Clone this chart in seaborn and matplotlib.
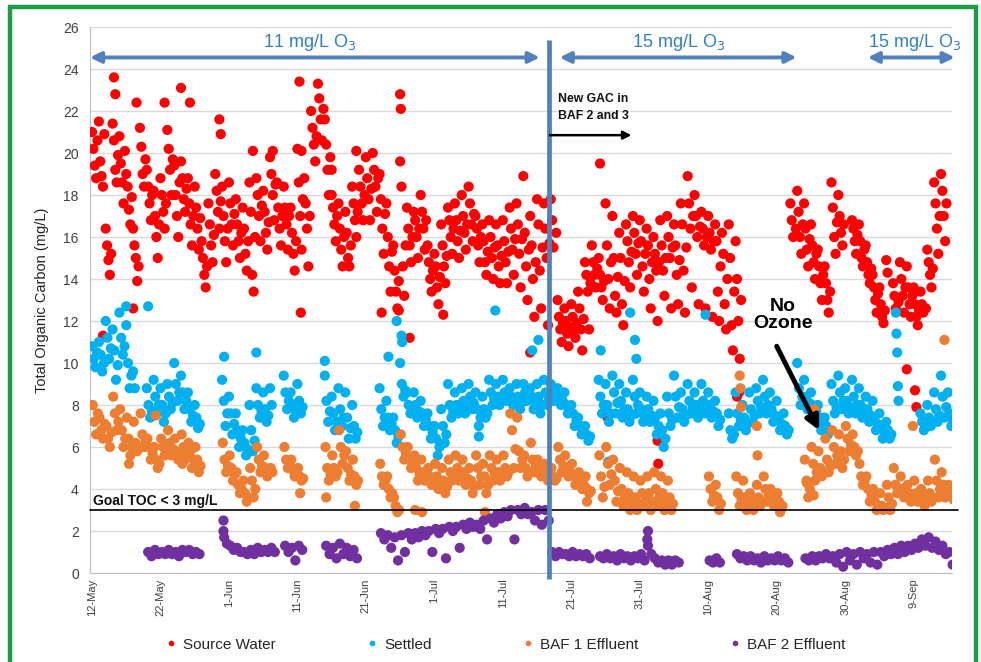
import numpy as np
import pandas as pd
import matplotlib
matplotlib.use("Agg")
import matplotlib.pyplot as plt
import seaborn as sns
from matplotlib.patches import Rectangle

N = None

# ===================================
# Axis data
# ===================================
tick_days   = [0, 10, 20, 30, 40, 50, 60, 70, 80, 90, 100, 110, 120]
tick_labels = ['12-May', '22-May', '1-Jun', '11-Jun', '21-Jun', '1-Jul', '11-Jul',
               '21-Jul', '31-Jul', '10-Aug', '20-Aug', '30-Aug', '9-Sep']
y_ticks = list(range(0, 27, 2))

SERIES = ['Source Water', 'Settled', 'BAF 1 Effluent', 'BAF 2 Effluent']
COLORS = ['#FF0000', '#00B0F0', '#ED7D31', '#7030A0']

# ===================================
# TOC readings, one value per reading slot per day (day 0 = 12-May)
# ===================================
src_a = [21.0, 21.5, 16.4, 21.4, 20.8, 19.0, 16.4, 21.2, 19.2, 18.2,
         18.8, 21.1, 19.4, 19.6, 18.8, 18.4, 15.8, 17.6, 19.0, 18.4,
         18.6, 17.8, 17.4, 18.6, 18.8, 18.2, 19.8, 18.6, 18.4, 17.4,
         20.2, 18.8, 22.0, 23.3, 21.6, 18.0, 17.6, 17.2, 18.4, 19.2,
         19.8, 20.0, 19.0, 17.6, 15.6, 19.6, 17.4, 17.2, 18.0, 15.6,
         15.2, 16.6, 17.4, 17.6, 18.0, 18.4, 17.0, 16.6, 16.8, 16.6,
         16.8, 17.4, 17.6, 18.9, 17.0, 17.8, 17.6, 17.8, 13.0, 12.6,
         12.8, 13.4, 14.8, 15.6, 15.0, 17.6, 17.0, 16.2, 16.6, 17.0,
         16.8, 16.4, 16.0, 16.8, 17.0, 16.6, 17.6, 18.9, 18.0, 17.2,
         17.0, 16.6, 16.2, 16.6, 15.8, N, N, N, N, N,
         N, N, 17.6, 18.2, 17.6, 16.6, 15.4, 14.6, 18.6, 18.0,
         N, 16.8, 16.6, 15.6, 14.2, 13.6, 14.9, 13.8, 14.8, 14.6,
         13.6, 13.4, 15.4, 18.6, 19.0, N]
src_b = [20.2, 19.6, 15.6, 20.6, 19.5, 18.4, 15.6, 20.3, 18.4, 17.0,
         18.0, 20.2, 18.0, 18.8, 17.6, 17.4, 15.0, 16.6, 18.2, 17.0,
         17.6, 16.6, 16.4, 17.2, 18.0, 17.2, 19.0, 17.4, 17.4, 16.2,
         18.6, 17.6, 21.2, 22.6, 20.4, 17.4, 16.4, 16.2, 17.6, 18.4,
         18.8, 19.2, 17.8, 16.0, 14.4, 18.4, 16.4, 16.8, 17.2, 14.8,
         14.6, 15.6, 16.8, 16.8, 17.0, 17.6, 16.4, 15.8, 16.0, 15.6,
         15.8, 16.4, 16.6, 16.2, 15.6, 16.6, 16.4, 16.8, 12.2, 12.0,
         12.2, 12.6, 14.2, 14.8, 14.2, 15.6, 15.0, 15.0, 15.8, 16.2,
         15.8, 15.6, 15.2, 15.6, 16.0, 15.6, 16.6, 17.6, 17.0, 16.4,
         16.2, 15.8, 15.2, 15.0, 14.0, N, N, N, N, N,
         N, N, 16.8, 17.2, 16.4, 15.6, 14.6, 13.8, 17.4, 17.0,
         N, 16.4, 15.8, 14.8, 13.6, 12.8, 14.3, 13.2, 14.0, 13.6,
         12.8, 12.8, 14.8, 17.6, 18.2, N]
src_c = [19.4, 18.9, 14.9, 19.2, 18.6, 17.3, 15.0, 19.0, 17.6, 16.0,
         17.2, 19.2, 17.0, 17.8, 16.6, 16.4, 14.2, 15.6, 17.2, 15.8,
         16.6, 15.8, 15.2, 14.2, 17.0, 16.2, 18.0, 16.4, 16.6, 15.2,
         17.0, 16.4, 20.4, 21.6, 19.2, 16.6, 15.4, 15.0, 16.8, 17.6,
         17.8, 18.4, 16.4, 14.6, 13.4, 14.6, 15.6, 16.0, 16.4, 14.0,
         13.6, 14.6, 16.0, 15.8, 16.2, 16.6, 15.6, 14.8, 15.0, 14.6,
         14.8, 15.4, 15.2, 14.6, 14.0, 14.4, 15.0, 15.5, 11.6, 11.4,
         11.6, 11.6, 13.4, 14.2, 13.6, 14.0, 13.2, 12.8, 14.8, 15.2,
         14.6, 14.0, 14.4, 14.4, 15.0, 14.2, 14.4, 16.4, 16.0, 15.6,
         15.4, 13.4, 12.8, 11.8, 12.0, N, N, N, N, N,
         N, N, 16.0, 16.0, 15.4, 14.8, 13.8, 13.0, 16.0, 16.2,
         N, 15.8, 15.0, 14.2, 13.0, 12.2, N, 12.6, 13.2, 12.8,
         12.2, 12.4, 14.2, 16.4, 17.0, N]
src_d = [18.8, 18.4, 14.2, 18.6, 17.6, 16.6, 13.9, 18.4, 16.8, 15.0,
         16.4, 18.0, 16.0, 17.2, 15.6, 15.4, 13.6, 14.8, 16.4, 14.8,
         15.6, 15.0, 14.4, 13.4, 15.8, 15.4, 16.8, 15.6, 15.4, 14.4,
         15.4, 14.6, 19.6, 20.6, 18.0, 15.8, 14.6, 14.6, 16.0, 16.8,
         16.8, 17.2, 15.2, 13.4, 12.6, 13.2, 14.8, 15.0, 15.4, 13.4,
         12.8, 13.8, 15.2, 15.0, 15.4, 15.8, 14.8, 14.2, 14.0, 13.8,
         13.8, 14.2, 13.6, 13.0, 12.2, 12.6, 11.8, N, 11.0, 10.8,
         11.2, 10.6, 11.6, 13.6, 13.0, 12.6, 12.4, 11.8, 13.6, 14.2,
         13.4, 12.6, 12.0, 13.2, 12.6, 12.8, 12.4, 13.6, 12.8, 12.6,
         12.2, 12.0, 11.6, 10.6, 10.2, N, N, N, N, N,
         N, N, N, 15.2, 14.6, 14.0, 13.0, 12.4, 15.2, 15.6,
         N, 15.2, 14.6, 13.8, 12.4, 11.9, N, N, 12.4, 12.2,
         11.8, N, 13.6, 15.2, 15.8, N]
src_e = [20.6, 20.9, 15.2, 19.9, 20.1, 17.9, 14.6, 19.7, 18.0, 16.6,
         17.6, 19.7, 18.6, 18.3, 17.0, 16.9, 14.6, 16.1, 17.7, 16.4,
         17.1, 16.2, 15.8, 16.0, 17.5, 16.7, 18.5, 17.0, 17.0, 15.8,
         17.8, 17.0, 20.8, 22.1, 19.8, 17.0, 16.0, 15.6, 17.2, 18.0,
         18.3, 18.8, 17.1, 15.3, 13.9, 15.6, 16.0, 16.4, 16.8, 14.4,
         14.1, 15.1, 16.4, 16.3, 16.6, 17.1, 16.0, 15.3, 15.5, 15.1,
         15.3, 15.9, 15.9, 15.4, 14.8, 15.5, 15.7, 16.2, 11.9, 11.7,
         11.9, 12.1, 13.8, 14.5, 13.9, 14.8, 14.1, 13.9, 15.3, 15.7,
         15.2, 14.8, 14.8, 15.0, 15.5, 14.9, 15.5, 17.0, 16.5, 16.0,
         15.8, 14.6, 14.0, 13.4, 13.0, N, N, N, N, N,
         N, N, 16.4, 16.6, 15.9, 15.2, 14.2, 13.4, 16.7, 16.6,
         N, 16.1, 15.4, 14.5, 13.3, 12.5, N, 12.9, 13.6, 13.2,
         12.5, 12.6, 14.5, 17.0, 17.6, N]
src_extra_day = [1.6, 3.2, 3.4, 6.0, 6.5, 10.6, 13.0, 14.3, 18.6, 18.8, 23.5,
                 26.4, 30.3, 30.5, 30.6, 35.0, 38.6, 42.3, 44.8, 45.0, 45.1,
                 46.4, 51.3, 64.0, 74.2, 75.3, 82.6, 82.7, 94.2, 94.5, 119.0,
                 120.2, 120.4]
src_extra_toc = [11.3, 23.6, 22.8, 12.6, 22.4, 22.4, 23.1, 22.4, 21.6, 20.9, 20.1,
                 20.1, 23.4, 12.4, 20.1, 19.2, 20.1, 12.4, 12.5, 22.8, 22.1,
                 11.2, 12.3, 10.5, 19.5, 7.4, 6.3, 5.2, 8.4, 8.6, 9.7,
                 8.7, 7.9]

set_a = [10.8, 11.0, 12.0, 11.6, 12.4, 11.8, 9.6, N, 8.8, 9.2,
         8.8, 9.0, 10.0, 9.4, 8.6, 8.0, N, N, N, 9.2,
         8.4, 7.6, 6.8, 8.0, 8.8, 8.6, 8.8, N, 9.4, 8.6,
         9.0, N, N, N, 9.4, 8.4, 8.8, 8.6, 8.0, N,
         N, N, 8.8, 8.2, 7.4, 10.0, 8.6, 8.6, 8.2, 7.6,
         7.0, 7.8, 9.0, 8.6, 8.8, 9.0, 8.6, 8.4, 9.2, 9.0,
         9.2, 8.8, 9.0, 9.0, 8.8, 9.0, 9.2, 9.0, 8.8, 8.6,
         8.0, 7.4, 7.0, N, 9.2, 9.0, 9.4, 9.0, 8.6, 9.2,
         8.6, 8.4, 8.2, 7.6, 8.4, 9.4, 8.6, 9.0, 8.6, 9.0,
         8.6, 8.2, N, 7.6, 8.6, 8.0, 8.6, 8.8, 9.2, 8.6,
         8.2, 7.6, N, 10.0, 9.2, 8.6, 8.0, 7.4, 9.0, 9.4,
         8.8, 9.2, 8.8, 8.4, 8.2, 7.6, 7.2, N, N, N,
         N, 7.6, 8.0, 8.6, 9.4, 8.6]
set_b = [10.2, 10.4, 11.2, 10.6, 11.2, 10.0, 8.8, N, 8.0, 8.4,
         8.0, 8.4, 9.0, 8.6, 7.8, 7.4, N, N, N, 8.2,
         7.6, 6.8, 6.2, 6.8, 8.0, 7.8, 8.0, N, 8.6, 8.0,
         8.2, N, N, N, 8.2, 7.6, 7.8, 7.4, 7.0, N,
         N, N, 7.8, 7.4, 6.8, 9.0, 8.0, 8.0, 7.6, 7.0,
         6.4, 7.0, 8.0, 8.0, 8.2, 8.4, 7.8, 7.8, 8.6, 8.4,
         8.6, 8.4, 8.4, 8.6, 8.4, 8.4, 8.6, 8.6, 8.4, 8.0,
         7.6, 7.0, 6.6, N, 8.4, 8.0, 8.6, 8.2, 7.8, 8.4,
         7.8, 7.8, 7.4, 6.8, 7.6, 8.4, 7.8, 8.2, 8.0, 8.2,
         8.0, 7.6, N, 6.8, 7.6, 7.4, 7.8, 8.2, 8.4, 7.8,
         7.4, 7.0, N, 8.8, 8.4, 8.0, 7.4, 7.0, 8.2, 8.6,
         8.2, 8.4, 8.0, 7.8, 7.4, 7.0, 6.8, N, N, N,
         N, 7.2, 7.4, 7.8, 8.4, 7.6]
set_c = [9.8, 9.6, 10.2, 9.2, 10.4, 8.8, N, N, 7.4, 7.6,
         7.2, 7.8, 8.2, 7.8, 7.2, 6.9, N, N, N, 7.0,
         6.6, 6.0, 5.6, 5.8, 7.4, 7.2, N, N, 7.8, 7.4,
         7.6, N, N, N, 7.2, 6.8, 7.0, 6.4, 6.4, N,
         N, N, 7.0, 6.8, 6.2, 8.4, 7.6, 7.4, 7.0, 6.4,
         5.6, 6.2, 7.4, 7.6, 7.6, 7.8, 7.0, 7.4, 8.0, 8.0,
         8.2, 8.0, 7.8, 8.2, 7.8, 7.6, 8.0, 8.2, 8.0, 7.6,
         7.0, 6.6, 6.3, N, 7.6, 7.2, 7.6, 7.4, 7.2, 7.6,
         7.2, 7.2, 6.6, 6.0, 7.0, 7.4, 7.2, 7.6, 7.4, 7.6,
         7.4, 7.0, N, 6.4, 7.0, 6.8, 7.2, 7.6, 7.6, 7.2,
         6.8, 6.6, N, 8.0, 7.8, 7.4, 6.8, 6.6, 7.6, 7.8,
         7.6, 7.6, 7.4, 7.2, 6.8, 6.4, 6.4, N, N, N,
         N, 6.8, 7.0, 7.2, 7.4, 7.0]
set_d = [10.5, 10.0, 10.7, 9.9, 10.8, 9.4, N, N, 7.7, 8.0,
         7.6, 8.1, 8.6, 8.2, 7.5, 7.1, N, N, N, 7.6,
         7.1, 6.4, 5.9, 6.3, 7.7, 7.5, N, N, 8.2, 7.7,
         7.9, N, N, N, 7.7, 7.2, 7.4, 6.9, 6.7, N,
         N, N, 7.4, 7.1, 6.5, 8.7, 7.8, 7.7, 7.3, 6.7,
         6.0, 6.6, 7.7, 7.8, 7.9, 8.1, 7.4, 7.6, 8.3, 8.2,
         8.4, 8.2, 8.1, 8.4, 8.1, 8.0, 8.3, 8.4, 8.2, 7.8,
         7.3, 6.8, 6.5, N, 8.0, 7.6, 8.1, 7.8, 7.5, 8.0,
         7.5, 7.5, 7.0, 6.4, 7.3, 7.9, 7.5, 7.9, 7.7, 7.9,
         7.7, 7.3, N, 6.6, 7.3, 7.1, 7.5, 7.9, 8.0, 7.5,
         7.1, 6.8, N, 8.4, 8.1, 7.7, 7.1, 6.8, 7.9, 8.2,
         7.9, 8.0, 7.7, 7.5, 7.1, 6.7, 6.6, N, N, N,
         N, 7.0, 7.2, 7.5, 7.9, 7.3]
set_extra_day = [5.0, 8.2, 19.3, 24.0, 34.0, 43.3, 44.5, 45.2, 45.3, 56.5, 58.9,
                 64.3, 65.2, 74.3, 75.4, 78.6, 79.3, 79.5, 89.6, 117.4, 117.5,
                 117.6, 117.7, 117.8]
set_extra_toc = [12.7, 12.7, 10.3, 10.5, 10.1, 10.3, 12.0, 11.3, 11.0, 6.5, 12.5,
                 10.6, 11.1, 10.6, 5.3, 12.4, 11.1, 10.2, 12.3, 12.4, 11.4,
                 10.5, 8.9, 8.2]

baf1_a = [8.0, 7.4, 7.0, 8.4, 7.8, 7.4, 7.2, 7.6, 6.4, 6.0,
          6.4, 6.8, 6.4, 6.6, 6.2, 6.0, N, N, N, 6.2,
          5.6, 4.8, 4.4, 5.0, 6.0, 5.6, 5.0, N, 6.0, 5.4,
          5.0, N, N, N, 6.0, 5.6, 6.8, 5.8, 5.4, N,
          N, N, 5.2, 4.6, 3.6, 6.6, 6.0, 5.6, 5.4, 5.0,
          5.2, 5.0, 5.4, 5.6, 5.4, 5.0, 5.6, 5.2, 5.6, 5.4,
          5.6, 7.6, 7.4, 5.6, 6.2, 5.4, 5.2, 5.0, 6.0, 5.6,
          5.2, 4.8, 4.6, N, 5.6, 6.0, 5.4, 5.0, 4.8, 4.6,
          4.4, 4.6, 4.8, 4.6, 4.4, N, N, N, N, N,
          4.6, 4.2, N, N, 4.6, 4.4, 3.8, 4.2, 4.6, 4.0,
          3.8, N, N, N, 5.4, 6.0, 5.8, 6.4, 6.8, 6.6,
          7.0, 6.6, 5.2, 4.6, 4.0, 3.8, 4.2, 5.0, 4.6, 4.2,
          4.4, 4.0, 4.4, 5.4, 4.8, 4.2]
baf1_b = [7.2, 6.8, 6.4, 7.6, 6.8, 6.4, 6.2, 6.6, 6.0, 5.4,
          6.0, 6.2, 5.8, 6.0, 5.8, 5.4, N, N, N, 5.4,
          5.0, 4.2, 3.8, 4.4, 5.4, 5.0, 4.8, N, 5.4, 4.9,
          4.6, N, N, N, 5.0, 5.0, 6.0, 5.0, 4.6, N,
          N, N, 4.6, 4.0, 3.2, 6.0, 5.4, 5.0, 4.8, 4.6,
          4.6, 4.4, 4.8, 5.0, 4.8, 4.4, 5.0, 4.6, 5.0, 4.8,
          5.0, 6.8, 5.8, 5.0, 5.4, 5.0, 4.8, 4.6, 5.4, 5.0,
          4.6, 4.4, 4.0, N, 4.6, 5.2, 4.4, 4.0, 3.8, 3.6,
          3.8, 3.8, 4.0, 3.8, 3.6, N, N, N, N, N,
          4.0, 3.6, N, N, 3.8, 3.6, 3.4, 3.6, 4.0, 3.6,
          3.4, N, N, N, 4.4, 5.2, 5.0, 5.4, 6.0, 5.8,
          6.4, 6.0, 4.6, 4.0, 3.4, 3.2, 3.6, 4.2, 4.0, 3.8,
          3.8, 3.6, 3.8, 4.4, 4.2, 3.8]
baf1_c = [6.6, 6.4, 6.0, 6.8, 6.0, 5.6, 5.8, 6.0, 5.4, 5.0,
          5.6, 5.6, 5.4, 5.4, 5.0, 4.8, N, N, N, 4.8,
          4.4, 3.8, 3.4, 3.6, 4.8, 4.6, N, N, 5.0, 4.6,
          4.4, N, N, N, 4.4, 4.6, 5.2, 4.4, 4.2, N,
          N, N, 4.2, 3.6, 2.9, 5.4, 5.0, 4.4, 4.4, 4.2,
          4.0, 3.8, 4.4, 4.4, 4.2, 3.8, 4.2, 3.8, 4.4, 4.4,
          4.6, 5.0, 5.0, 4.6, 4.8, 4.6, 4.4, 4.4, 4.8, 4.6,
          4.2, 4.0, 3.8, N, 3.6, 4.2, 3.4, 3.2, 3.0, 3.0,
          3.2, 3.0, 3.2, 3.0, 3.0, N, N, N, N, N,
          3.4, 3.0, N, N, 3.2, 3.0, 3.0, 3.2, 3.4, 3.2,
          3.0, N, N, N, 3.6, 4.4, 4.6, 4.8, 5.2, 5.0,
          5.8, 5.6, 4.2, 3.4, 3.0, 3.0, 3.0, 3.8, 3.6, 3.4,
          3.4, 3.2, 3.4, 3.6, 3.6, N]
baf1_d = [7.6, 7.1, 6.7, 7.2, 6.4, 6.0, 6.0, 6.3, 5.7, 5.2,
          5.8, 5.9, 5.6, 5.7, 5.4, 5.1, N, N, N, 5.1,
          4.7, 4.0, 3.6, 4.0, 5.1, 4.8, N, N, 5.2, 4.7,
          4.5, N, N, N, 4.7, 4.8, 5.6, 4.7, 4.4, N,
          N, N, 4.4, 3.8, 3.0, 5.7, 5.2, 4.7, 4.6, 4.4,
          4.3, 4.1, 4.6, 4.7, 4.5, 4.1, 4.6, 4.2, 4.7, 4.6,
          4.8, 5.9, 5.4, 4.8, 5.1, 4.8, 4.6, 4.5, 5.1, 4.8,
          4.4, 4.2, 3.9, N, 4.1, 4.7, 3.9, 3.6, 3.4, 3.3,
          3.5, 3.4, 3.6, 3.4, 3.3, N, N, N, N, N,
          3.7, 3.3, N, N, 3.5, 3.3, 3.2, 3.4, 3.7, 3.4,
          3.2, N, N, N, 4.0, 4.8, 4.8, 5.1, 5.6, 5.4,
          6.1, 5.8, 4.4, 3.7, 3.2, 3.1, 3.3, 4.0, 3.8, 3.6,
          3.6, 3.4, 3.6, 4.0, 3.9, 3.5]
baf1_extra_day = [5.4, 9.3, 13.2, 30.4, 34.2, 38.4, 47.2, 48.2, 57.4, 72.3,
                  94.6, 94.7, 94.8, 97.1, 97.2, 100.5, 104.4, 105.4, 105.5,
                  119.9, 124.5]
baf1_extra_toc = [5.2, 7.5, 5.2, 3.8, 3.6, 3.2, 3.0, 2.9, 2.9, 3.4,
                  9.4, 8.8, 7.9, 7.0, 5.6, 2.9, 4.3, 3.7, 7.8,
                  7.0, 11.1]

baf2_a = [N, N, N, N, N, N, N, N, 1.0, 1.1,
          1.0, 1.1, 1.0, 1.1, 1.1, 1.0, N, N, N, 2.5,
          1.3, 1.2, 1.0, 1.1, 1.2, 1.1, 1.2, N, 1.3, 1.2,
          1.3, N, N, N, 1.3, 1.2, 1.4, 1.2, 1.1, N,
          N, N, 1.9, 1.8, 1.7, 1.8, 1.9, 1.9, 2.0, 2.0,
          2.1, 2.1, 2.2, 2.2, 2.3, 2.4, 2.3, 2.5, 2.6, 2.8,
          2.9, 3.0, 3.0, 3.1, 2.9, 3.0, 3.0, 1.0, 1.0, 0.9,
          1.0, 0.9, 0.9, N, 0.8, 0.9, 0.8, 0.9, 0.8, 0.8,
          0.9, 2.0, 0.7, 0.6, 0.6, 0.6, N, N, N, N,
          0.6, 0.7, N, N, 0.9, 0.8, 0.8, 0.7, 0.8, 0.7,
          0.8, 0.7, N, N, 0.7, 0.8, 0.8, 0.9, 0.8, 0.9,
          1.0, 0.9, 1.0, 0.9, 1.0, 1.0, 1.1, 1.2, 1.3, 1.3,
          1.4, 1.6, 1.7, 1.5, 1.3, 1.0]
baf2_b = [N, N, N, N, N, N, N, N, 0.8, 0.9,
          0.9, 0.9, 0.8, 1.0, 0.9, 0.9, N, N, N, 1.4,
          1.1, 1.0, 0.9, 0.9, 1.0, 1.0, 1.0, N, 1.0, 0.6,
          1.1, N, N, N, 0.9, 0.7, 0.9, 0.8, 0.7, N,
          N, N, 1.6, 1.2, 0.6, 1.0, 1.6, 1.7, 1.8, 1.0,
          1.9, 0.7, 2.0, 1.2, 2.1, 2.2, 2.1, 1.6, 2.4, 2.6,
          2.7, 1.6, 2.8, 2.8, 2.5, 2.3, 2.5, 0.8, 0.9, 0.8,
          0.8, 0.8, 0.7, N, 0.7, 0.7, 0.6, 0.7, 0.6, 0.7,
          0.6, 0.9, 0.5, 0.4, 0.4, 0.5, N, N, N, N,
          0.5, 0.5, N, N, 0.7, 0.6, 0.6, 0.5, 0.6, 0.6,
          0.6, 0.5, N, N, 0.6, 0.6, 0.7, 0.7, 0.5, 0.3,
          0.6, 0.4, 0.7, 0.5, 0.4, 0.8, 0.9, 0.9, 1.0, 1.1,
          1.2, 1.3, 1.2, 1.1, 0.9, 0.4]
baf2_extra_day = [19.2, 19.3, 81.1, 81.2]
baf2_extra_toc = [2.0, 1.7, 1.6, 1.3]


# ===================================
# Build one long table: (day, toc, series)
# ===================================
def collect(name, slots, offsets, extra_day, extra_toc):
    rows = []
    for vals, off in zip(slots, offsets):
        for d, v in enumerate(vals):
            if v is not None:
                rows.append((d + off, v, name))
    rows += [(d, v, name) for d, v in zip(extra_day, extra_toc)]
    return rows


rows = []
rows += collect('Source Water', [src_a, src_b, src_c, src_d, src_e],
                [0.0, 0.2, 0.4, 0.6, 0.8], src_extra_day, src_extra_toc)
rows += collect('Settled', [set_a, set_b, set_c, set_d], [0.0, 0.25, 0.5, 0.75],
                set_extra_day, set_extra_toc)
rows += collect('BAF 1 Effluent', [baf1_a, baf1_b, baf1_c, baf1_d], [0.1, 0.35, 0.6, 0.85],
                baf1_extra_day, baf1_extra_toc)
rows += collect('BAF 2 Effluent', [baf2_a, baf2_b], [0.2, 0.7],
                baf2_extra_day, baf2_extra_toc)
df = pd.DataFrame(rows, columns=['day', 'toc', 'series'])

# ===================================
# Plot
# ===================================
sns.set_style('white')
plt.rcParams['font.family'] = ['Liberation Sans', 'DejaVu Sans']

fig = plt.figure(figsize=(9.81, 6.62), dpi=100)
ax = fig.add_axes([0.0917, 0.1344, 0.8787, 0.8248])

sns.scatterplot(data=df, x='day', y='toc', hue='series', hue_order=SERIES,
                palette=COLORS, s=54, linewidth=0, alpha=1, ax=ax, zorder=3)

ax.set_xlim(-0.3, 125.6)
ax.set_ylim(0, 26)
ax.set_yticks(y_ticks)
ax.set_xticks(tick_days)
ax.set_xticklabels(tick_labels, rotation=90, fontsize=8, color='#404040')
ax.tick_params(axis='y', labelsize=10, labelcolor='#404040', length=0, pad=8)
ax.tick_params(axis='x', length=0, pad=4)
ax.set_xlabel('')
ax.set_ylabel('Total Organic Carbon (mg/L)', fontsize=10.5, color='#222222', labelpad=10)

ax.yaxis.grid(True, color='#D9D9D9', linewidth=1)
ax.set_axisbelow(True)
for side in ['top', 'right']:
    ax.spines[side].set_visible(False)
for side in ['left', 'bottom']:
    ax.spines[side].set_color('#BFBFBF')

# Goal line
ax.plot([-0.3, 126.5], [3, 3], color='black', lw=1.2, zorder=4, clip_on=False)
ax.text(0.2, 3.12, 'Goal TOC < 3 mg/L', fontsize=10, fontweight='bold',
        color='#111111', va='bottom', ha='left')

# GAC change line
BLUE = '#4F81BD'
ax.plot([66.7, 66.7], [-0.3, 25.4], color=BLUE, lw=3.4, zorder=5,
        clip_on=False, solid_capstyle='butt')

# Ozone dose arrows
for x0, x1, xt, label in [(-0.3, 65.4, 31.8, '11 mg/L O$_3$'),
                          (68.3, 102.9, 85.7, '15 mg/L O$_3$'),
                          (113.3, 126.0, 120.1, '15 mg/L O$_3$')]:
    ax.annotate('', xy=(x1, 24.55), xytext=(x0, 24.55),
                arrowprops=dict(arrowstyle='<|-|>', color=BLUE, lw=2.8,
                                mutation_scale=16, shrinkA=0, shrinkB=0),
                annotation_clip=False, zorder=6)
    ax.text(xt, 25.25, label, fontsize=13, color='#2E80C8',
            ha='center', va='center', clip_on=False)

# New GAC note
ax.text(68.0, 22.85, 'New GAC in\nBAF 2 and 3', fontsize=8.8, fontweight='bold',
        color='#111111', ha='left', va='top', linespacing=1.55)
ax.annotate('', xy=(78.8, 20.85), xytext=(66.9, 20.85),
            arrowprops=dict(arrowstyle='-|>', color='black', lw=1.8,
                            mutation_scale=12, shrinkA=0, shrinkB=0), zorder=6)

# No ozone note
ax.text(100.9, 12.3, 'No\nOzone', fontsize=14, fontweight='bold', color='black',
        ha='center', va='center', linespacing=1.0, zorder=7)
ax.annotate('', xy=(106.2, 6.8), xytext=(100.0, 10.8),
            arrowprops=dict(arrowstyle='-|>', color='black', lw=3.5,
                            mutation_scale=20, shrinkA=0, shrinkB=0), zorder=7)

# Legend
handles, labels = ax.get_legend_handles_labels()
ax.legend(handles, labels, loc='center', bbox_to_anchor=(0.515, 0.026),
          bbox_transform=fig.transFigure, ncol=4, frameon=False, fontsize=11,
          markerscale=0.55, handlelength=0.8, handletextpad=0.4, columnspacing=5.9)

# Green frame
fig.patches.append(Rectangle((0.0102, -0.02), 0.985, 1.0094, transform=fig.transFigure,
                             fill=False, edgecolor='#1E9B45', linewidth=3.2))

fig.savefig('out.png', dpi=100)
